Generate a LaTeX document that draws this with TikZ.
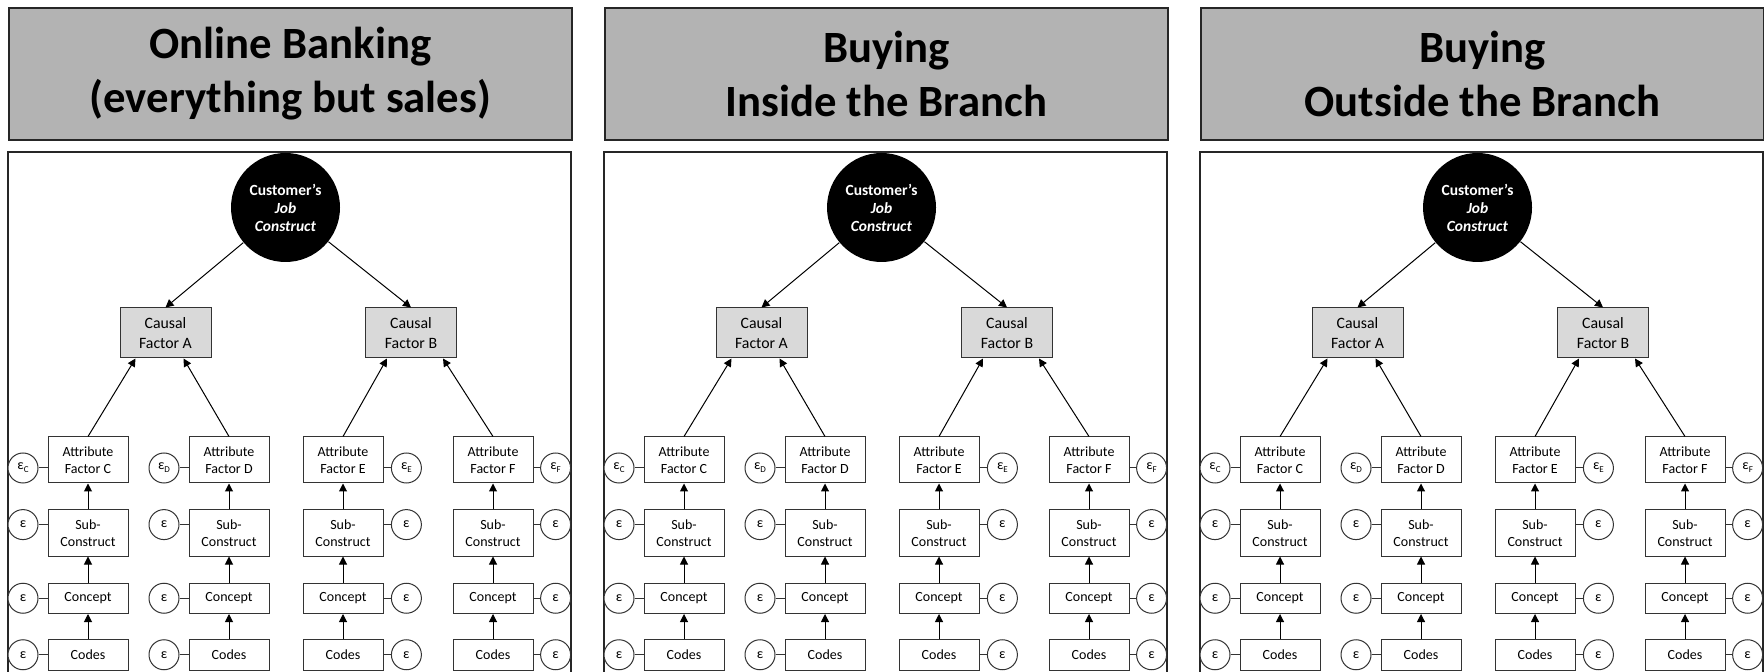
\documentclass[tikz,border=0pt]{standalone}
\usepackage{fontspec}
\setmainfont{Carlito}
\usetikzlibrary{arrows.meta, positioning, calc}

\definecolor{headgray}{HTML}{B3B3B3}
\definecolor{causalgray}{HTML}{D9D9D9}
\definecolor{framegray}{HTML}{262626}

\tikzset{
  headbox/.style={draw=framegray, line width=0.9pt, fill=headgray,
                  minimum width=281.5pt, minimum height=66pt, inner sep=0pt,
                  font=\fontsize{22.35}{27}\selectfont\bfseries, align=center},
  framebox/.style={draw=framegray, line width=0.75pt},
  jobnode/.style={circle, fill=black, text=white, minimum size=54.5pt, inner sep=0pt,
                  font=\fontsize{7.75}{9}\selectfont\bfseries, align=center},
  causalbox/.style={draw=black!80, line width=0.5pt, fill=causalgray,
                    minimum width=45.5pt, minimum height=25pt, inner sep=1pt,
                    font=\fontsize{7.9}{9.8}\selectfont, align=center},
  attbox/.style={draw=black!80, line width=0.5pt, fill=white,
                 minimum width=40pt, minimum height=23pt, inner sep=1pt,
                 font=\fontsize{7}{8.8}\selectfont, align=center},
  lowbox/.style={attbox, minimum height=15.25pt},
  errnode/.style={draw=black!80, circle, line width=0.5pt, fill=white,
                  minimum size=15pt, inner sep=0pt, font=\fontsize{7}{8}\selectfont},
  arr/.style={-{Triangle[length=4pt, width=4pt]}, line width=0.5pt, black},
  link/.style={line width=0.5pt, black!80},
}

% lowered index on an error term
\newcommand{\errsub}[1]{\raisebox{-1.4pt}{\fontsize{4.5}{5}\selectfont #1}}

\begin{document}
\begin{tikzpicture}[x=0.5pt, y=-0.5pt]

  \clip (0,0) rectangle (1764,672);
  \fill[white] (0,0) rectangle (1764,672);

  %% ── three panels, same tree in each ──────────────────────────────────────
  \foreach \pn/\px/\ttl in {1/8/{Online Banking\\(everything but sales)},
                            2/604/{Buying\\Inside the Branch},
                            3/1200/{Buying\\Outside the Branch}} {
  \begin{scope}[shift={(\px,0)}]

    % title bar and frame
    \node[headbox, anchor=north west] (head\pn) at (0,7) {\ttl};
    \draw[framebox] (0,152) rectangle (563,700);

    % job construct on top, causal factors below it
    \node[jobnode] (job\pn) at (277.5,207.5)
      {Customer’s\\\textit{Job}\\\textit{Construct}};
    \node[causalbox] (cfa\pn) at (157.5,333) {Causal\\Factor A};
    \node[causalbox] (cfb\pn) at (403,333) {Causal\\Factor B};

    \draw[arr] (job\pn) -- (cfa\pn.north);
    \draw[arr] (job\pn) -- (cfb\pn.north);

    % one column per attribute factor, error terms on the outer side
    \foreach \col/\cx/\side/\gap/\edge in {C/80/left/4.5pt/west,
                                           D/221/left/4.5pt/west,
                                           E/335/right/3.7pt/east,
                                           F/485/right/3.3pt/east} {
      \node[attbox] (att\col\pn) at (\cx,460) {Attribute\\Factor \col};
      \node[attbox, below=13pt of att\col\pn] (sub\col\pn) {Sub-\\Construct};
      \node[lowbox, below=13pt of sub\col\pn] (con\col\pn) {Concept};
      \node[lowbox, below=12.5pt of con\col\pn] (cod\col\pn) {Codes};

      \node[errnode, \side=\gap of att\col\pn, yshift=-4pt] (ea\col\pn)
        {ε\errsub{\col}};
      \node[errnode, \side=\gap of sub\col\pn, yshift=4.2pt] (es\col\pn) {ε};
      \node[errnode, \side=\gap of con\col\pn] (ec\col\pn) {ε};
      \node[errnode, \side=\gap of cod\col\pn] (ed\col\pn) {ε};

      \draw[link] (ea\col\pn) -- (ea\col\pn -| att\col\pn.\edge);
      \draw[link] (es\col\pn) -- (es\col\pn -| sub\col\pn.\edge);
      \draw[link] (ec\col\pn) -- (ec\col\pn -| con\col\pn.\edge);
      \draw[link] (ed\col\pn) -- (ed\col\pn -| cod\col\pn.\edge);

      \draw[arr] (cod\col\pn) -- (con\col\pn);
      \draw[arr] (con\col\pn) -- (sub\col\pn);
      \draw[arr] (sub\col\pn) -- (att\col\pn);
    }

    % attribute factors load on their causal factor
    \draw[arr] (attC\pn.north) -- ($(cfa\pn.south)+(-30,0)$);
    \draw[arr] (attD\pn.north) -- ($(cfa\pn.south)+(18,0)$);
    \draw[arr] (attE\pn.north) -- ($(cfb\pn.south)+(-24,0)$);
    \draw[arr] (attF\pn.north) -- ($(cfb\pn.south)+(32,0)$);

  \end{scope}
  }

\end{tikzpicture}
\end{document}
